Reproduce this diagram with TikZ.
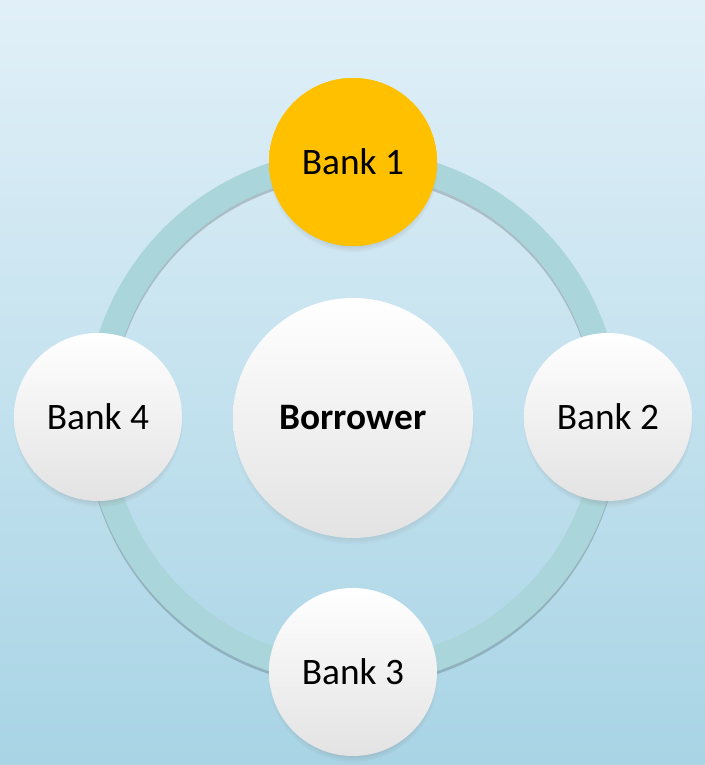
\documentclass[tikz,border=0pt]{standalone}
\usepackage{fontspec}
\setmainfont{Carlito}
\usetikzlibrary{shadows}
\definecolor{bgtop}{HTML}{E1F0F8}
\definecolor{bgbottom}{HTML}{A8D4E5}
\definecolor{ringcol}{HTML}{AAD5DA}
\definecolor{gold}{HTML}{FFC000}
\tikzset{
  bank/.style={circle, minimum size=126pt, inner sep=0pt,
    top color=white, middle color=white, bottom color=black!11,
    circular drop shadow={shadow xshift=0pt, shadow yshift=-4pt, shadow scale=1.01, opacity=0.45},
    font=\fontsize{28}{31}\selectfont},
  lead/.style={bank, fill=gold, top color=gold, middle color=gold, bottom color=gold},
  hub/.style={bank, minimum size=180pt, font=\fontsize{28}{31}\selectfont\bfseries}
}
\begin{document}
\begin{tikzpicture}[x=0.75pt,y=0.75pt]
    \useasboundingbox (0,0) rectangle (705,765);
    \shade[top color=bgtop, bottom color=bgbottom] (0,0) rectangle (705,765);

    %ring
    \draw[line width=18.75pt, black, opacity=0.18] (353,345) circle (255);
    \draw[line width=18.75pt, ringcol] (353,348) circle (255);

    \node[hub] (borrower) at (353,347) {Borrower};
    \node[lead] (bank1) at (353,603) {Bank 1};
    \node[bank] (bank2) at (608,348) {Bank 2};
    \node[bank] (bank3) at (353,93) {Bank 3};
    \node[bank] (bank4) at (98,348) {Bank 4};
\end{tikzpicture}
\end{document}
